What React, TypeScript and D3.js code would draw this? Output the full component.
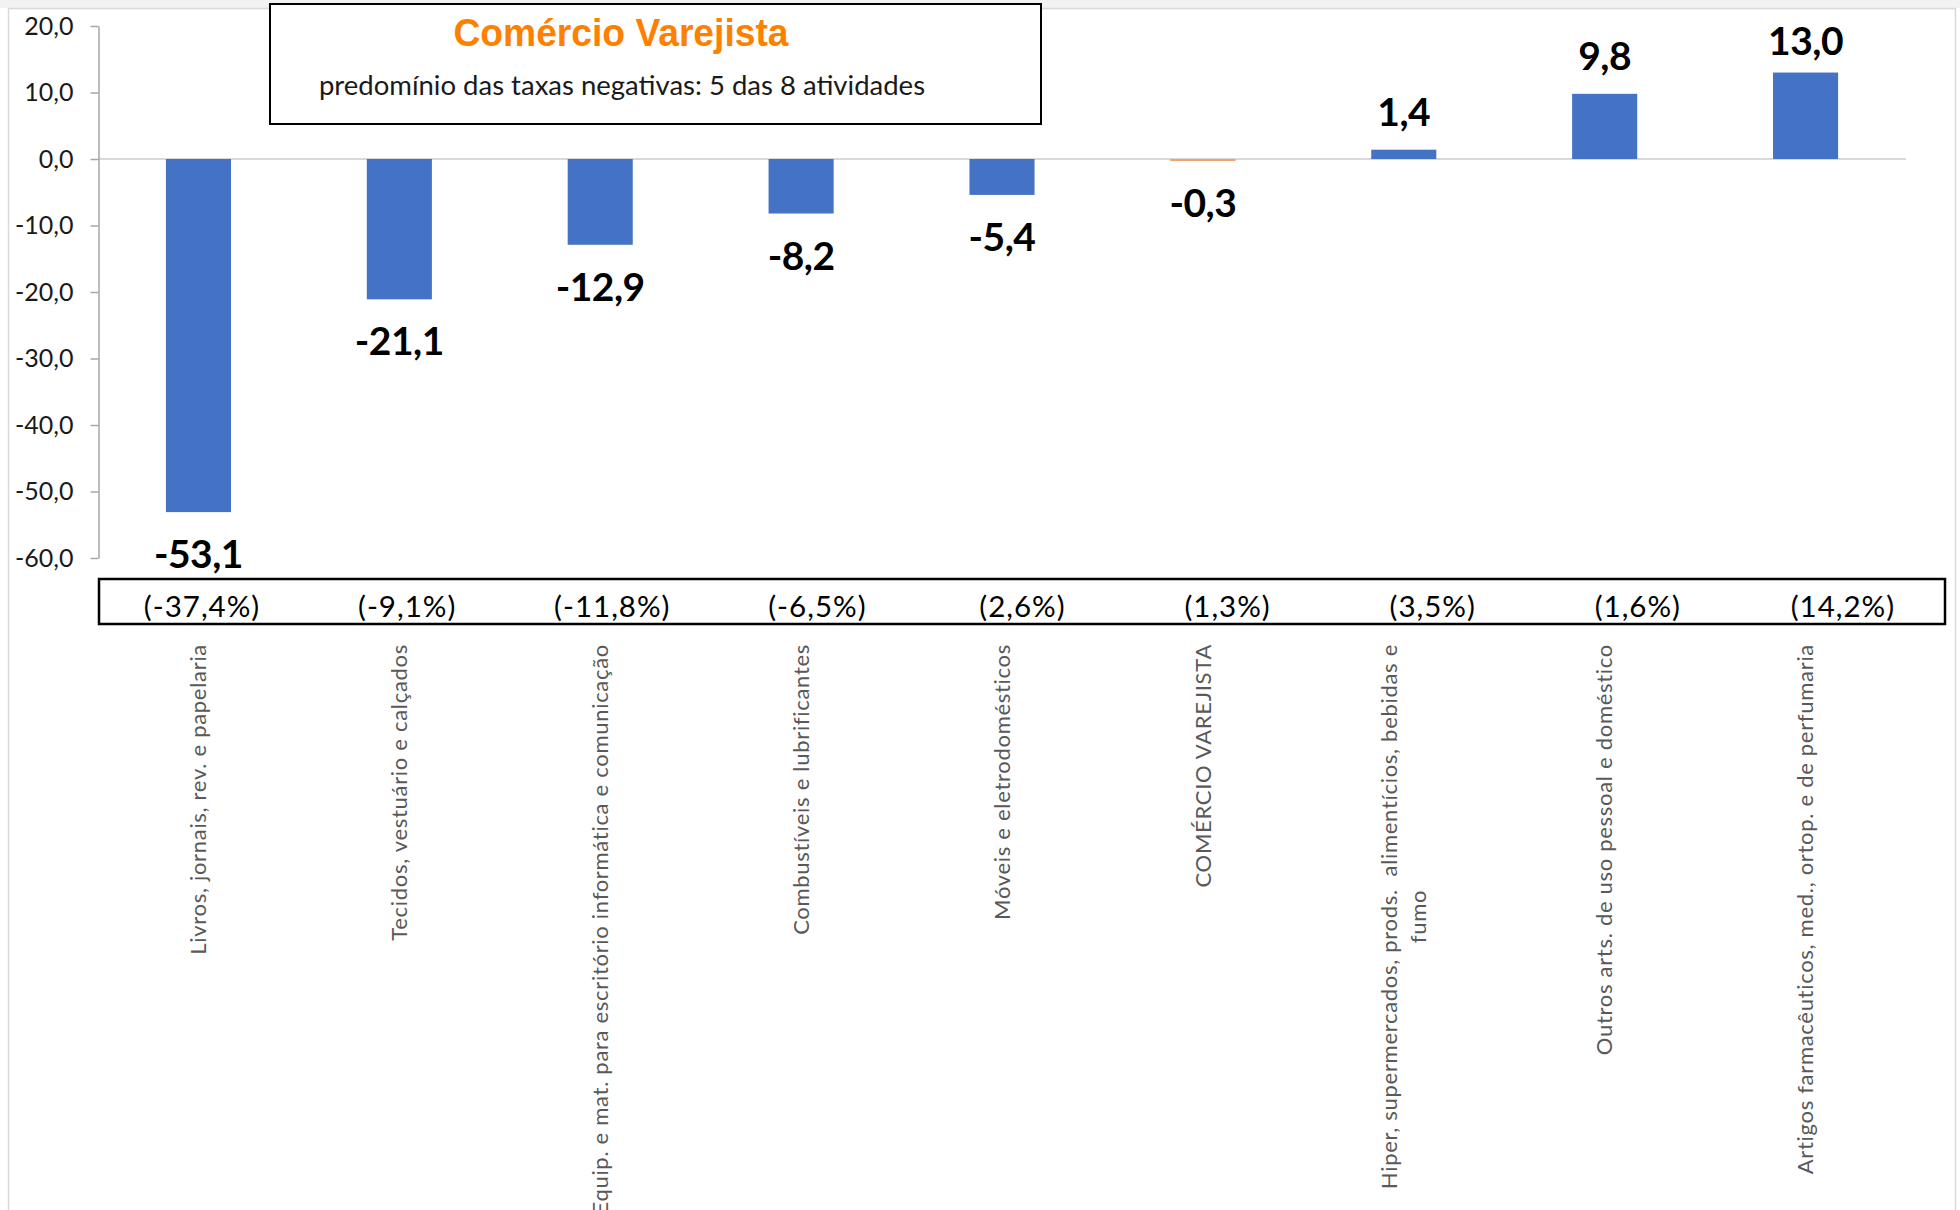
import React, { useEffect, useRef } from 'react';
import * as d3 from 'd3';

const categories = [
  'Livros, jornais, rev. e papelaria',
  'Tecidos, vestuário e calçados',
  'Equip. e mat. para escritório informática e comunicação',
  'Combustíveis e lubrificantes',
  'Móveis e eletrodomésticos',
  'COMÉRCIO VAREJISTA',
  'Hiper, supermercados, prods.  alimentícios, bebidas e fumo',
  'Outros arts. de uso pessoal e doméstico',
  'Artigos farmacêuticos, med., ortop. e de perfumaria',
];
const categoryLines = [
  ['Livros, jornais, rev. e papelaria'],
  ['Tecidos, vestuário e calçados'],
  ['Equip. e mat. para escritório informática e comunicação'],
  ['Combustíveis e lubrificantes'],
  ['Móveis e eletrodomésticos'],
  ['COMÉRCIO VAREJISTA'],
  ['Hiper, supermercados, prods.  alimentícios, bebidas e', 'fumo'],
  ['Outros arts. de uso pessoal e doméstico'],
  ['Artigos farmacêuticos, med., ortop. e de perfumaria'],
];
const values = [-53.1, -21.1, -12.9, -8.2, -5.4, -0.3, 1.4, 9.8, 13.0];
const shares = ['(-37,4%)', '(-9,1%)', '(-11,8%)', '(-6,5%)', '(2,6%)', '(1,3%)', '(3,5%)', '(1,6%)', '(14,2%)'];
const yTicks = [20, 10, 0, -10, -20, -30, -40, -50, -60];
const yDomain = [-60, 20];
const totalCategory = 'COMÉRCIO VAREJISTA';
const titleText = 'Comércio Varejista';
const subtitleText = 'predomínio das taxas negativas: 5 das 8 atividades';

const FONT = 'Lato, Carlito, Calibri, sans-serif';
const ARIAL = '"Liberation Sans", Arial, sans-serif';

export default function App() {
  const ref = useRef<SVGSVGElement>(null);

  useEffect(() => {
    const svg = d3.select(ref.current);
    svg.selectAll('*').remove();

    const locale = d3.formatLocale({ decimal: ',', thousands: '.', grouping: [3], currency: ['R$', ''], minus: '-' });
    const fmt = locale.format('.1f');

    // background
    svg.append('rect').attr('x', 0).attr('y', 0).attr('width', 1960).attr('height', 1210).attr('fill', '#ffffff');
    svg.append('rect').attr('x', 0).attr('y', 0).attr('width', 1960).attr('height', 8).attr('fill', '#f2f2f2');
    svg.append('rect').attr('x', 8.5).attr('y', 8.5).attr('width', 1947).attr('height', 1220)
      .attr('fill', '#ffffff').attr('stroke', '#d9d9d9').attr('stroke-width', 1.5);

    const x = d3.scaleBand<string>().domain(categories).range([98, 1906]).paddingInner(0.676).paddingOuter(0.338);
    const xTable = d3.scaleBand<string>().domain(categories).range([99, 1945]).padding(0);
    const y = d3.scaleLinear().domain(yDomain).range([558, 26]);

    // zero line
    svg.append('line').attr('x1', 98).attr('x2', 1906).attr('y1', y(0)).attr('y2', y(0))
      .attr('stroke', '#d9d9d9').attr('stroke-width', 2);

    // y axis
    const axis = d3.axisLeft(y).tickValues(yTicks).tickSize(8).tickSizeOuter(0).tickPadding(17)
      .tickFormat((d) => fmt(d as number));
    const gAxis = svg.append('g').attr('transform', 'translate(98.5,0)').call(axis);
    gAxis.select('.domain').attr('stroke', '#a6a6a6').attr('stroke-width', 1.5);
    gAxis.selectAll('.tick line').attr('stroke', '#a6a6a6').attr('stroke-width', 1.5);
    gAxis.selectAll('.tick text').attr('font-family', FONT).attr('font-size', 25).attr('fill', '#1a1a1a');

    // bars
    svg.append('g').selectAll('rect').data(categories).join('rect')
      .attr('x', (d) => x(d)!)
      .attr('width', x.bandwidth())
      .attr('y', (d, i) => Math.min(y(0), y(values[i])))
      .attr('height', (d, i) => Math.abs(y(values[i]) - y(0)))
      .attr('fill', (d) => (d === totalCategory ? '#f2a36b' : '#4472c4'));

    // value labels
    svg.append('g').selectAll('text').data(categories).join('text')
      .attr('x', (d) => x(d)! + x.bandwidth() / 2)
      .attr('y', (d, i) => (values[i] < 0 ? y(values[i]) + 56 : Math.max(y(values[i]) - 24, 55)))
      .attr('text-anchor', 'middle')
      .attr('font-family', FONT).attr('font-weight', 700).attr('font-size', 39).attr('fill', '#000')
      .attr('letter-spacing', -0.5)
      .text((d, i) => fmt(values[i]));

    // table box
    svg.append('rect').attr('x', 99).attr('y', 579).attr('width', 1846).attr('height', 45)
      .attr('fill', 'none').attr('stroke', '#000').attr('stroke-width', 2.5);
    svg.append('g').selectAll('text').data(categories).join('text')
      .attr('x', (d) => xTable(d)! + xTable.bandwidth() / 2 + 0.5)
      .attr('y', 617)
      .attr('text-anchor', 'middle')
      .attr('font-family', FONT).attr('font-size', 29.5).attr('letter-spacing', 1).attr('fill', '#000')
      .text((d, i) => shares[i]);

    // category labels (rotated)
    const lineH = 29;
    categories.forEach((c, i) => {
      const lines = categoryLines[i];
      const g = svg.append('g').attr('transform', `translate(${x(c)! + x.bandwidth() / 2},644) rotate(-90)`);
      const n = lines.length;
      let firstLen = 0;
      lines.forEach((ln, j) => {
        const off = (j - (n - 1) / 2) * lineH;
        const t = g.append('text')
          .attr('y', off)
          .attr('dy', '0.35em')
          .attr('font-family', FONT).attr('font-size', 22).attr('letter-spacing', 0.7)
          .attr('fill', '#595959')
          .style('white-space', 'pre')
          .text(ln);
        if (j === 0) {
          t.attr('x', 0).attr('text-anchor', 'end');
          firstLen = (t.node() as SVGTextElement).getComputedTextLength();
        } else {
          t.attr('x', -firstLen / 2).attr('text-anchor', 'middle');
        }
      });
    });

    // title box
    svg.append('rect').attr('x', 270).attr('y', 4).attr('width', 771).attr('height', 120)
      .attr('fill', '#ffffff').attr('stroke', '#000').attr('stroke-width', 2);
    svg.append('text').attr('x', 621).attr('y', 46).attr('text-anchor', 'middle')
      .attr('font-family', ARIAL).attr('font-weight', 700).attr('font-size', 38).attr('fill', '#ff7f00')
      .attr('textLength', 335).attr('lengthAdjust', 'spacingAndGlyphs')
      .text(titleText);
    svg.append('text').attr('x', 622).attr('y', 95).attr('text-anchor', 'middle')
      .attr('font-family', FONT).attr('font-size', 27.5).attr('fill', '#1a1a1a')
      .text(subtitleText);
  }, []);

  return (
    <svg
      ref={ref}
      width={1960}
      height={1210}
      style={{ position: 'absolute', left: 0, top: 0, display: 'block' }}
    />
  );
}
